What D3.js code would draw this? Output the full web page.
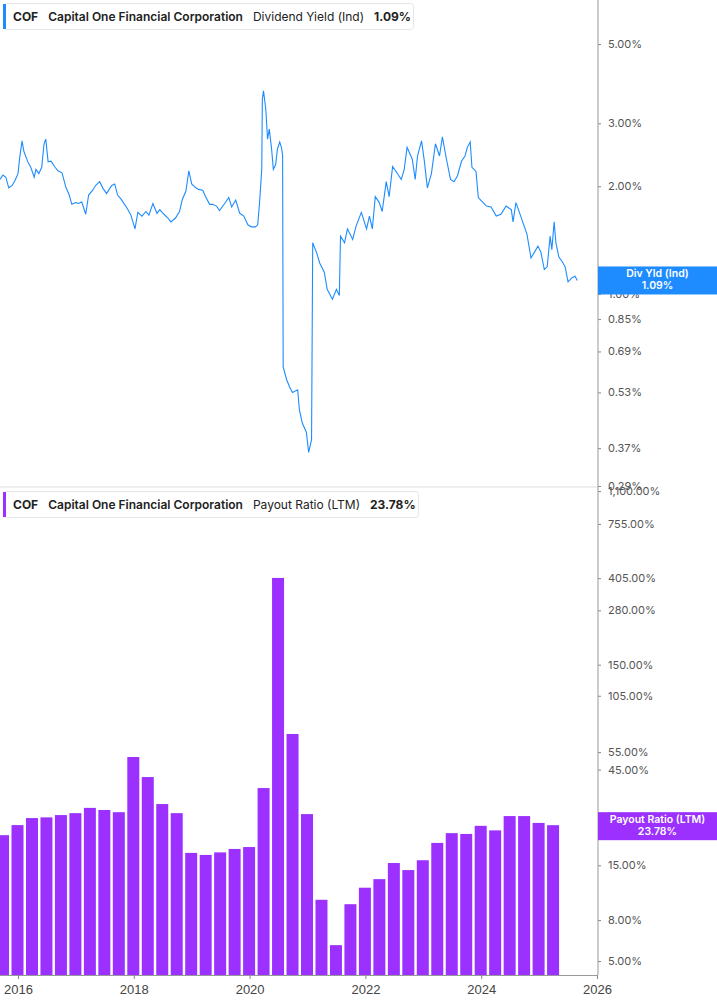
<!DOCTYPE html>
<html><head><meta charset="utf-8">
<script src="https://cdn.jsdelivr.net/npm/d3@7"></script>
<style>body{margin:0;background:#fff;font-family:Inter,"Noto Sans",sans-serif}</style>
</head><body><svg id="c" width="717" height="1005"></svg>
<script>
const yieldDates=[2015.69,2015.74,2015.79,2015.84,2015.90,2015.95,2016.00,2016.03,2016.07,2016.10,2016.14,2016.17,2016.22,2016.28,2016.31,2016.36,2016.41,2016.45,2016.48,2016.52,2016.57,2016.64,2016.69,2016.76,2016.83,2016.88,2016.93,2017.00,2017.05,2017.10,2017.17,2017.22,2017.29,2017.34,2017.41,2017.47,2017.53,2017.62,2017.67,2017.72,2017.78,2017.84,2017.90,2017.95,2018.02,2018.07,2018.14,2018.21,2018.26,2018.33,2018.40,2018.45,2018.52,2018.59,2018.64,2018.72,2018.79,2018.84,2018.90,2018.95,2019.00,2019.07,2019.12,2019.19,2019.24,2019.31,2019.36,2019.43,2019.48,2019.57,2019.64,2019.69,2019.76,2019.83,2019.90,2019.97,2020.03,2020.10,2020.14,2020.17,2020.21,2020.22,2020.24,2020.28,2020.31,2020.34,2020.38,2020.41,2020.45,2020.48,2020.52,2020.55,2020.57,2020.58,2020.64,2020.69,2020.74,2020.83,2020.86,2020.91,2020.98,2021.02,2021.07,2021.09,2021.16,2021.21,2021.29,2021.34,2021.43,2021.50,2021.55,2021.57,2021.64,2021.69,2021.78,2021.84,2021.93,2022.02,2022.07,2022.12,2022.17,2022.24,2022.29,2022.36,2022.41,2022.47,2022.53,2022.62,2022.67,2022.72,2022.81,2022.86,2022.90,2022.97,2023.02,2023.07,2023.14,2023.21,2023.28,2023.33,2023.40,2023.47,2023.53,2023.59,2023.66,2023.72,2023.76,2023.81,2023.84,2023.91,2023.95,2024.02,2024.09,2024.17,2024.26,2024.34,2024.43,2024.52,2024.55,2024.60,2024.66,2024.71,2024.79,2024.86,2024.91,2024.98,2025.03,2025.09,2025.14,2025.19,2025.22,2025.26,2025.29,2025.34,2025.40,2025.45,2025.50,2025.57,2025.62,2025.66];
const yieldValues=[2.09,2.15,2.12,1.98,2.01,2.08,2.17,2.41,2.68,2.51,2.41,2.34,2.26,2.12,2.23,2.17,2.26,2.63,2.71,2.34,2.35,2.26,2.21,2.18,1.98,1.90,1.78,1.80,1.79,1.81,1.67,1.89,1.95,2.01,2.06,1.97,1.91,2.01,2.03,1.89,1.84,1.78,1.72,1.66,1.52,1.69,1.65,1.70,1.66,1.79,1.68,1.72,1.67,1.63,1.59,1.63,1.70,1.84,1.94,2.21,2.03,1.98,1.96,1.95,1.87,1.78,1.78,1.76,1.71,1.79,1.86,1.75,1.83,1.68,1.65,1.56,1.54,1.54,1.56,1.78,2.23,3.50,3.70,3.28,2.71,2.89,2.54,2.23,2.30,2.54,2.66,2.57,2.44,0.625,0.575,0.55,0.53,0.539,0.474,0.435,0.41,0.36,0.391,1.39,1.30,1.22,1.15,1.03,0.966,1.03,0.99,1.45,1.39,1.52,1.42,1.55,1.69,1.52,1.65,1.52,1.87,1.80,1.70,2.06,1.87,2.27,2.20,2.09,2.23,2.57,2.38,2.09,2.43,2.68,2.34,1.98,2.17,2.63,2.43,2.75,2.38,2.09,2.06,2.14,2.35,2.43,2.57,2.66,2.26,2.20,1.86,1.81,1.76,1.75,1.65,1.67,1.76,1.72,1.59,1.80,1.69,1.60,1.47,1.26,1.30,1.36,1.31,1.17,1.19,1.45,1.33,1.59,1.39,1.27,1.23,1.19,1.08,1.11,1.12,1.09];
const payoutQuarters=["2015Q4","2016Q1","2016Q2","2016Q3","2016Q4","2017Q1","2017Q2","2017Q3","2017Q4","2018Q1","2018Q2","2018Q3","2018Q4","2019Q1","2019Q2","2019Q3","2019Q4","2020Q1","2020Q2","2020Q3","2020Q4","2021Q1","2021Q2","2021Q3","2021Q4","2022Q1","2022Q2","2022Q3","2022Q4","2023Q1","2023Q2","2023Q3","2023Q4","2024Q1","2024Q2","2024Q3","2024Q4","2025Q1","2025Q2"];
const payoutValues=[21.2,23.8,25.8,26.0,26.7,27.3,29.0,28.3,27.6,52,41.3,30.3,27.3,17.3,16.9,17.4,18.1,18.5,36.4,406,67.7,27.0,10.1,6.0,9.6,11.6,12.8,15.4,14.2,15.9,19.4,21.7,21.5,23.6,22.4,26.4,26.4,24.4,23.78];
const yieldTicks=[5,3,2,1,0.85,0.69,0.53,0.37,0.29];
const payoutTicks=[1100,755,405,280,150,105,55,45,15,8,5];
const yearTicks=[2016,2018,2020,2022,2024,2026];

const svg=d3.select("#c");
const AX=598, W=717;
const x=d3.scaleLinear().domain([2016,2026]).range([18,597]);
const yTop=d3.scaleLog().domain([0.29,6.64]).range([486,0]);
const yBot=d3.scaleLog().domain([4.26,1153]).range([975,487]);
const blue="#1e8cff", purple="#9b30ff";
const fmt=v=>d3.format(",.2f")(v)+"%";

// panel separator
svg.append("line").attr("x1",0).attr("x2",AX).attr("y1",487).attr("y2",487).attr("stroke","#ddd");
// right axes
const ga=svg.append("g").attr("transform",`translate(${AX},0)`);
ga.call(d3.axisRight(yTop).tickValues(yieldTicks).tickFormat(fmt).tickSize(3));
const gb=svg.append("g").attr("transform",`translate(${AX},0)`);
gb.call(d3.axisRight(yBot).tickValues(payoutTicks).tickFormat(fmt).tickSize(3));
[ga,gb].forEach(g=>{g.select(".domain").remove();g.selectAll("line").attr("stroke","#888");
 g.selectAll("text").attr("fill","#555").attr("font-size",11).attr("x",10).attr("font-family","Inter,sans-serif");});
svg.append("line").attr("x1",AX).attr("x2",AX).attr("y1",0).attr("y2",975).attr("stroke","#999");

// line
const pts=yieldDates.map((d,i)=>[d,yieldValues[i]]);
svg.append("path").datum(pts).attr("fill","none").attr("stroke",blue).attr("stroke-width",1.1)
 .attr("d",d3.line().x(d=>x(d[0])).y(d=>yTop(d[1])));

// bars
const qd=q=>+q.slice(0,4)+(+q[5]-1)*0.25;
svg.selectAll("rect.b").data(payoutQuarters).join("rect").attr("class","b")
 .attr("x",q=>x(qd(q))-0.5-6).attr("width",12)
 .attr("y",(q,i)=>yBot(payoutValues[i])).attr("height",(q,i)=>975-yBot(payoutValues[i]))
 .attr("fill",purple);

// x axis
const gx=svg.append("g").attr("transform","translate(0,975)")
 .call(d3.axisBottom(x).tickValues(yearTicks).tickFormat(d3.format("d")).tickSize(4));
gx.select(".domain").attr("d","M0,0.5H"+AX).attr("stroke","#999");
gx.selectAll("line").attr("stroke","#888");
gx.selectAll("text").attr("fill","#444").attr("font-size",13).attr("dy","0.9em");

// value tags
function tag(yc,col,l1,l2){
 svg.append("rect").attr("x",AX).attr("y",yc-14).attr("width",W-AX).attr("height",28).attr("fill",col);
 svg.append("text").attr("x",(AX+W)/2).attr("y",yc-3).attr("text-anchor","middle").attr("fill","#fff").attr("font-size",10.5).attr("font-weight",600).text(l1);
 svg.append("text").attr("x",(AX+W)/2).attr("y",yc+9).attr("text-anchor","middle").attr("fill","#fff").attr("font-size",10.5).attr("font-weight",600).text(l2);
}
tag(yTop(1.09),blue,"Div Yld (Ind)","1.09%");
tag(yBot(23.78)+1,purple,"Payout Ratio (LTM)","23.78%");

// legends
function legend(y0,col,metric,val,w){
 svg.append("rect").attr("x",3.5).attr("y",y0+0.5).attr("width",w).attr("height",26).attr("rx",3).attr("fill","#fff").attr("stroke","#e6e6e6");
 svg.append("rect").attr("x",3).attr("y",y0+1).attr("width",3).attr("height",25).attr("fill",col);
 const t=svg.append("text").attr("x",13).attr("y",y0+18).attr("font-size",12).attr("fill","#222");
 t.append("tspan").attr("font-weight",700).text("COF");
 t.append("tspan").attr("dx",10).attr("font-weight",600).text("Capital One Financial Corporation");
 t.append("tspan").attr("dx",10).text(metric);
 t.append("tspan").attr("dx",10).attr("font-weight",700).text(val);
}
legend(3,blue,"Dividend Yield (Ind)","1.09%",410);
legend(491,purple,"Payout Ratio (LTM)","23.78%",415);
</script></body></html>
